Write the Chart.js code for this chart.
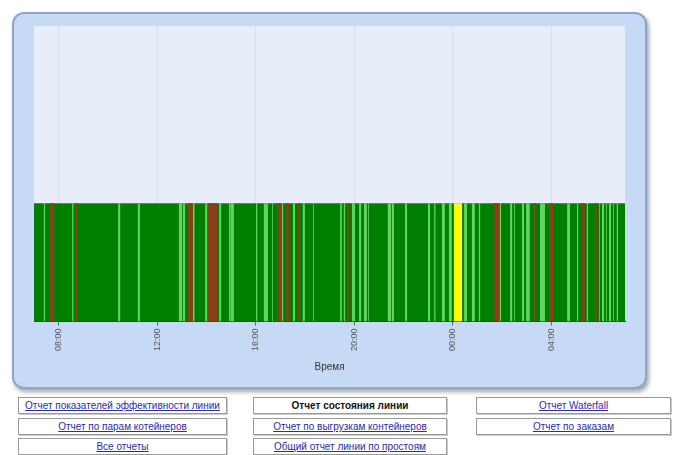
<!doctype html>
<html>
<head>
<meta charset="utf-8">
<title>Отчет состояния линии</title>
<script src="https://cdn.jsdelivr.net/npm/chart.js@4.4.1/dist/chart.umd.min.js"></script>
<style>
body { margin:0; background:#fff; font-family:"Liberation Sans", Arial, sans-serif; }
#panel {
	position:absolute; left:12px; top:12px; width:631px; height:373px;
	background:#c7daf5; border:2px solid #8ea5c6; border-radius:12px;
	box-shadow:2px 3px 4px rgba(0,0,0,0.35);
}
.btn {
	position:absolute; height:15px; border:1px solid #999; background:#fff;
	box-shadow:1px 1px 0 #ccc;
	font-size:10px; line-height:15px; text-align:center; white-space:nowrap; overflow:hidden;
}
.btn a { color:#2b2ba8; text-decoration:underline; }
.btn b { color:#111; }
</style>
</head>
<body>
<div id="panel"><canvas id="canvas"></canvas></div>

<div class="btn" style="left:18px;top:397px;width:207px"><a href="#">Отчет показателей эффективности линии</a></div>
<div class="btn" style="left:253px;top:397px;width:192px"><b>Отчет состояния линии</b></div>
<div class="btn" style="left:476px;top:397px;width:193px"><a href="#">Отчет Waterfall</a></div>
<div class="btn" style="left:18px;top:418px;width:207px"><a href="#">Отчет по парам котейнеров</a></div>
<div class="btn" style="left:253px;top:418px;width:192px"><a href="#">Отчет по выгрузкам контейнеров</a></div>
<div class="btn" style="left:476px;top:418px;width:193px"><a href="#">Отчет по заказам</a></div>
<div class="btn" style="left:18px;top:438px;width:207px"><a href="#">Все отчеты</a></div>
<div class="btn" style="left:253px;top:438px;width:192px"><a href="#">Общий отчет линии по простоям</a></div>

<script>
// period shown on the chart (24 h)
const periodStart = "07:00";
const tickTimes = ["08:00", "12:00", "16:00", "20:00", "00:00", "04:00"];

// line states, [from, to]; everything else is normal run (dark green)
const lightGreenPeriods = [
	["07:24","07:27"], ["08:33","08:36"], ["10:25","10:30"], ["11:13","11:18"],
	["12:53","13:01"], ["13:03","13:08"], ["13:27","13:31"], ["13:57","14:02"],
	["14:31","14:36"], ["14:55","14:59"], ["15:00","15:07"], ["16:01","16:04"],
	["16:20","16:30"], ["16:40","16:42"], ["17:04","17:07"], ["17:31","17:36"],
	["17:55","18:00"], ["18:20","18:22"], ["19:26","19:30"], ["19:35","19:38"],
	["19:55","20:02"], ["20:12","20:17"], ["20:24","20:31"], ["20:34","20:36"],
	["21:22","21:30"], ["21:32","21:37"], ["22:04","22:09"], ["23:00","23:05"],
	["23:15","23:18"], ["23:34","23:41"], ["23:51","23:58"], ["00:28","00:35"],
	["00:47","00:54"], ["01:04","01:07"], ["01:55","01:58"], ["02:20","02:25"],
	["02:30","02:32"], ["02:49","02:54"], ["02:59","03:08"], ["03:33","03:45"],
	["04:39","04:46"], ["05:03","05:06"], ["05:27","05:30"], ["05:57","05:59"],
	["06:04","06:09"], ["06:14","06:16"], ["06:21","06:26"], ["06:31","06:33"],
	["06:40","06:43"]
];
const brownPeriods = [
	["07:39","07:49"], ["08:40","08:45"], ["13:15","13:27"], ["14:04","14:28"],
	["16:52","17:02"], ["17:12","17:21"], ["17:43","17:47"], ["19:43","19:47"],
	["01:41","01:53"], ["03:16","03:23"], ["03:55","04:05"], ["05:15","05:22"],
	["05:47","05:52"]
];
const yellowPeriods = [["00:03","00:23"]];

const startHour = parseInt(periodStart, 10);

function toMin(t) {
	const [h, m] = t.split(":").map(Number);
	let v = (h - startHour) * 60 + m;
	if (v < 0) v += 1440;
	return v;
}

function toBars(periods) {
	return periods.map(p => ({ x: [toMin(p[0]), toMin(p[1])], y: 0.5 }));
}

function fmt(v) {
	const h = (startHour + Math.floor(v / 60)) % 24;
	const m = v % 60;
	return String(h).padStart(2, "0") + ":" + String(m).padStart(2, "0");
}

const plotBg = {
	id: "plotBg",
	beforeDraw(chart) {
		const a = chart.chartArea, ctx = chart.ctx;
		ctx.save();
		ctx.fillStyle = "#e7edf9";
		ctx.fillRect(a.left, a.top, a.right - a.left, a.bottom - a.top);
		ctx.restore();
	}
};

const common = { grouped: false, borderWidth: 0, borderSkipped: false, barPercentage: 1, categoryPercentage: 0.4 };

new Chart(document.getElementById("canvas"), {
	type: "bar",
	data: {
		datasets: [
			Object.assign({ label: "yellow", data: toBars(yellowPeriods), backgroundColor: "#ffff00" }, common),
			Object.assign({ label: "brown", data: toBars(brownPeriods), backgroundColor: "#86401a" }, common),
			Object.assign({ label: "light", data: toBars(lightGreenPeriods), backgroundColor: "#62d462" }, common),
			Object.assign({ label: "run", data: [{ x: [0, 1440], y: 0.5 }], backgroundColor: "#008000" }, common)
		]
	},
	plugins: [plotBg],
	options: {
		indexAxis: "y",
		responsive: true,
		maintainAspectRatio: false,
		animation: false,
		layout: { padding: { left: 20, right: 20, top: 12, bottom: 10 } },
		plugins: { legend: { display: false }, tooltip: { enabled: false } },
		scales: {
			x: {
				type: "linear",
				min: 0,
				max: 1440,
				afterBuildTicks(scale) {
					scale.ticks = tickTimes.map(t => ({ value: toMin(t) }));
				},
				ticks: {
					callback: v => fmt(v),
					minRotation: 90,
					maxRotation: 90,
					padding: 3,
					color: "#555",
					font: { family: "Liberation Sans", size: 9 }
				},
				grid: { color: "#d6deea", tickColor: "#666", tickLength: 4 },
				border: { display: true, color: "#2f3f2f" },
				title: {
					display: true,
					text: "Время",
					color: "#333",
					padding: { top: 7 },
					font: { family: "Liberation Sans", size: 10 }
				}
			},
			y: {
				type: "linear",
				min: 0,
				max: 2.5,
				offset: false,
				display: false,
				ticks: { stepSize: 2.5 }
			}
		}
	}
});
</script>
</body>
</html>
